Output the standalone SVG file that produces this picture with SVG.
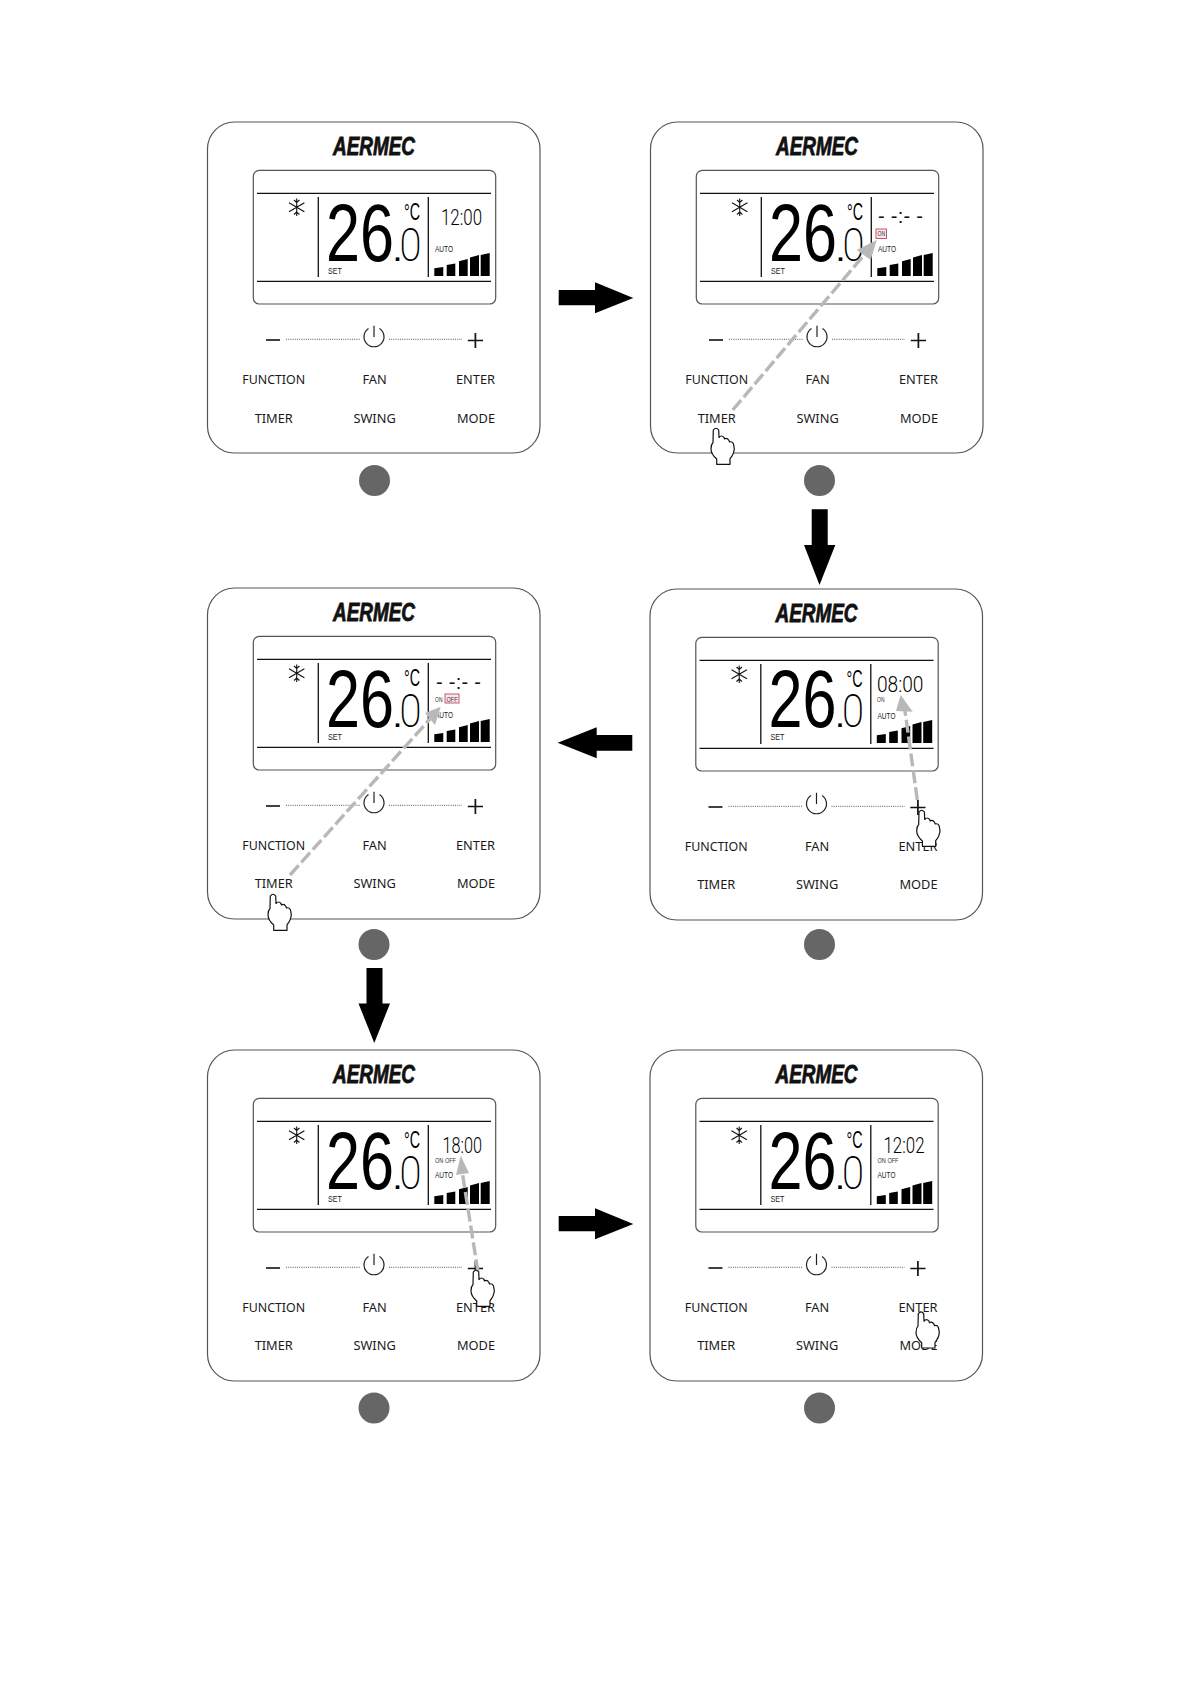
<svg xmlns="http://www.w3.org/2000/svg" width="1191" height="1684" viewBox="0 0 1191 1684">
<style>
text{font-family:"Noto Sans","Liberation Sans",sans-serif;fill:#1a1a1a}
.lb{font-size:12.8px;text-anchor:middle}
.fn{font-size:12.4px}
.logo{font-family:"Liberation Sans",Arial,sans-serif;font-weight:700;font-style:italic;font-size:25px;fill:#111;stroke:#111;stroke-width:.8}
.big{font-family:"Liberation Sans",Arial,sans-serif;font-size:81px;fill:#000}
.dec{font-family:Roboto,"Liberation Sans",sans-serif;font-size:47px;font-weight:200;fill:#000}
.dot{font-family:"Liberation Sans",Arial,sans-serif;font-size:24px;font-weight:700;fill:#000}
.deg{font-family:"Liberation Sans",Arial,sans-serif;font-size:23px;fill:#000}
.tm{font-family:Roboto,"Liberation Sans",sans-serif;font-size:22.5px;font-weight:300;fill:#000}
.dash{font-family:"Liberation Sans",Arial,sans-serif;font-size:20px;fill:#111}
.sm{font-family:"Liberation Sans",Arial,sans-serif;font-size:9px;fill:#222}
.xs{font-family:"Liberation Sans",Arial,sans-serif;font-size:7px;fill:#333}
.ln{stroke:#111;stroke-width:1.3;fill:none}
.fl{stroke:#111;stroke-width:1.1;fill:none}
.frame{fill:#fff;stroke:#555;stroke-width:1.2}
.dots{stroke:#555;stroke-width:1;stroke-dasharray:1 1.2;fill:none}
.num{fill:#666}
.blk{fill:#000}
.gd{stroke:#b8b8b8;stroke-width:3.4;stroke-dasharray:13 4;fill:none}
.gh{fill:#b8b8b8}
.hand{fill:#fff;stroke:#111;stroke-width:1.2;stroke-linejoin:round}
.box{fill:#fbe6ea;stroke:#c9566f;stroke-width:1}
</style>
<defs>
<g id="base">
<rect class="frame" x="207.5" y="122" width="332.5" height="331" rx="27"/>
<rect class="frame" x="253.3" y="170.3" width="242.4" height="133.7" rx="6"/>
<path class="ln" d="M257 193.3H491M257 281.3H491M318.3 197V277M428.3 197V277"/>
<path class="fl" d="M296.7 198.5V216M289 202.800L304.400 211.700M289 211.700L304.400 202.800M294 200L296.700 202.500L299.400 200M294 214.500L296.700 212L299.400 214.500"/>
<path d="M434.300 268.300L443.300 267V276H434.300ZM446.700 265L455.300 263.500V276H446.700ZM459 261.300L467.700 259V276H459ZM470 257.500L479 255V276H470ZM480.700 255L489.700 253V276H480.700Z" fill="#000"/>
<path d="M266 340H280" stroke="#111" stroke-width="1.6"/>
<path class="dots" d="M286 339.300H360M389 339.300H462"/>
<path d="M368.500 328.400A10 10 0 1 0 379.500 328.400M374 325.700V337" fill="none" stroke="#222" stroke-width="1.200"/>
<path d="M467.800 340.500H483M475.400 333V348" stroke="#111" stroke-width="1.700"/>
</g>
<path id="hp" d="M-2.700 2Q0 -1.500 2.700 2L3 9.500Q5.500 6.500 8 9.500L8.500 11Q11 9.500 13 12.500L13.500 14Q16.500 13 17.500 16L18.300 20.700Q18 26 14 30.700V36.300H0.700V31Q-5 26 -5 20.700Q-5 16.500 -3 14.500Z"/>
</defs>

<g id="panel-1">
<use href="#base"/>
<text class="logo" x="333" y="155" textLength="82" lengthAdjust="spacingAndGlyphs">AERMEC</text>
<text class="big" x="326" y="260.500" textLength="68" lengthAdjust="spacingAndGlyphs">26</text>
<text class="dot" x="394" y="260.500" textLength="7" lengthAdjust="spacingAndGlyphs">.</text>
<text class="dec" x="399.500" y="260.500" textLength="22" lengthAdjust="spacingAndGlyphs">0</text>
<text class="deg" x="404" y="220" textLength="16" lengthAdjust="spacingAndGlyphs">°C</text>
<text class="sm" x="328" y="273.500" textLength="14" lengthAdjust="spacingAndGlyphs">SET</text>
<text class="sm" x="435" y="252" textLength="18" lengthAdjust="spacingAndGlyphs">AUTO</text>
<text class="tm" x="441" y="225" textLength="41" lengthAdjust="spacingAndGlyphs">12:00</text>
<text class="lb fn" x="273.700" y="384">FUNCTION</text>
<text class="lb" x="374.600" y="384">FAN</text>
<text class="lb" x="475.500" y="384">ENTER</text>
<text class="lb" x="273.700" y="422.700">TIMER</text>
<text class="lb" x="374.600" y="422.700">SWING</text>
<text class="lb" x="476" y="422.700">MODE</text>
<circle class="num" cx="374.500" cy="480.500" r="15.500"/>
</g>

<g id="panel-2" transform="translate(443 0)">
<use href="#base"/>
<text class="logo" x="333" y="155" textLength="82" lengthAdjust="spacingAndGlyphs">AERMEC</text>
<text class="big" x="326" y="260.500" textLength="68" lengthAdjust="spacingAndGlyphs">26</text>
<text class="dot" x="394" y="260.500" textLength="7" lengthAdjust="spacingAndGlyphs">.</text>
<text class="dec" x="399.500" y="260.500" textLength="22" lengthAdjust="spacingAndGlyphs">0</text>
<text class="deg" x="404" y="220" textLength="16" lengthAdjust="spacingAndGlyphs">°C</text>
<text class="sm" x="328" y="273.500" textLength="14" lengthAdjust="spacingAndGlyphs">SET</text>
<text class="sm" x="435" y="252" textLength="18" lengthAdjust="spacingAndGlyphs">AUTO</text>
<text class="dash" x="435" y="222.700" textLength="45">- -:- -</text>
<rect class="box" x="433" y="229" width="10.500" height="9.500"/>
<text class="xs" x="434.500" y="236.300" textLength="7.500" lengthAdjust="spacingAndGlyphs">ON</text>
<text class="lb fn" x="273.700" y="384">FUNCTION</text>
<text class="lb" x="374.600" y="384">FAN</text>
<text class="lb" x="475.500" y="384">ENTER</text>
<text class="lb" x="273.700" y="422.700">TIMER</text>
<text class="lb" x="374.600" y="422.700">SWING</text>
<text class="lb" x="476" y="422.700">MODE</text>
<circle class="num" cx="376.500" cy="480.500" r="15.500"/>
</g>

<g id="panel-3" transform="translate(0 466)">
<use href="#base"/>
<text class="logo" x="333" y="155" textLength="82" lengthAdjust="spacingAndGlyphs">AERMEC</text>
<text class="big" x="326" y="260.500" textLength="68" lengthAdjust="spacingAndGlyphs">26</text>
<text class="dot" x="394" y="260.500" textLength="7" lengthAdjust="spacingAndGlyphs">.</text>
<text class="dec" x="399.500" y="260.500" textLength="22" lengthAdjust="spacingAndGlyphs">0</text>
<text class="deg" x="404" y="220" textLength="16" lengthAdjust="spacingAndGlyphs">°C</text>
<text class="sm" x="328" y="273.500" textLength="14" lengthAdjust="spacingAndGlyphs">SET</text>
<text class="sm" x="435" y="252" textLength="18" lengthAdjust="spacingAndGlyphs">AUTO</text>
<text class="dash" x="436" y="222.700" textLength="45">- -:- -</text>
<text class="xs" x="435" y="235.500" textLength="7.500" lengthAdjust="spacingAndGlyphs">ON</text>
<rect class="box" x="445" y="228" width="14" height="9"/>
<text class="xs" x="446.500" y="235.500" textLength="11" lengthAdjust="spacingAndGlyphs">OFF</text>
<text class="lb fn" x="273.700" y="384">FUNCTION</text>
<text class="lb" x="374.600" y="384">FAN</text>
<text class="lb" x="475.500" y="384">ENTER</text>
<text class="lb" x="273.700" y="422.200">TIMER</text>
<text class="lb" x="374.600" y="422.200">SWING</text>
<text class="lb" x="476" y="422.200">MODE</text>
<circle class="num" cx="374" cy="478.500" r="15.500"/>
</g>

<g id="panel-4" transform="translate(442.500 467)">
<use href="#base"/>
<text class="logo" x="333" y="154.500" textLength="82" lengthAdjust="spacingAndGlyphs">AERMEC</text>
<text class="big" x="326" y="260" textLength="68" lengthAdjust="spacingAndGlyphs">26</text>
<text class="dot" x="394" y="260" textLength="7" lengthAdjust="spacingAndGlyphs">.</text>
<text class="dec" x="399.500" y="260" textLength="22" lengthAdjust="spacingAndGlyphs">0</text>
<text class="deg" x="404" y="219.500" textLength="16" lengthAdjust="spacingAndGlyphs">°C</text>
<text class="sm" x="328" y="273" textLength="14" lengthAdjust="spacingAndGlyphs">SET</text>
<text class="sm" x="435" y="251.500" textLength="18" lengthAdjust="spacingAndGlyphs">AUTO</text>
<text class="tm" x="434.500" y="224.500" textLength="46.500" lengthAdjust="spacingAndGlyphs">08:00</text>
<text class="xs" x="434.500" y="234.500" textLength="7.500" lengthAdjust="spacingAndGlyphs">ON</text>
<text class="lb fn" x="273.700" y="383.500">FUNCTION</text>
<text class="lb" x="374.600" y="383.500">FAN</text>
<text class="lb" x="475.500" y="383.500">ENTER</text>
<text class="lb" x="273.700" y="422.200">TIMER</text>
<text class="lb" x="374.600" y="422.200">SWING</text>
<text class="lb" x="476" y="422.200">MODE</text>
<circle class="num" cx="377" cy="477.500" r="15.500"/>
</g>

<g id="panel-5" transform="translate(0 928)">
<use href="#base"/>
<text class="logo" x="333" y="155" textLength="82" lengthAdjust="spacingAndGlyphs">AERMEC</text>
<text class="big" x="326" y="260.500" textLength="68" lengthAdjust="spacingAndGlyphs">26</text>
<text class="dot" x="394" y="260.500" textLength="7" lengthAdjust="spacingAndGlyphs">.</text>
<text class="dec" x="399.500" y="260.500" textLength="22" lengthAdjust="spacingAndGlyphs">0</text>
<text class="deg" x="404" y="220" textLength="16" lengthAdjust="spacingAndGlyphs">°C</text>
<text class="sm" x="328" y="273.500" textLength="14" lengthAdjust="spacingAndGlyphs">SET</text>
<text class="sm" x="435" y="250" textLength="18" lengthAdjust="spacingAndGlyphs">AUTO</text>
<text class="tm" x="442.500" y="224.700" textLength="39.500" lengthAdjust="spacingAndGlyphs">18:00</text>
<text class="xs" x="435" y="235" textLength="21" lengthAdjust="spacingAndGlyphs">ON OFF</text>
<text class="lb fn" x="273.700" y="384">FUNCTION</text>
<text class="lb" x="374.600" y="384">FAN</text>
<text class="lb" x="475.500" y="384">ENTER</text>
<text class="lb" x="273.700" y="422.200">TIMER</text>
<text class="lb" x="374.600" y="422.200">SWING</text>
<text class="lb" x="476" y="422.200">MODE</text>
<circle class="num" cx="374" cy="480" r="15.500"/>
</g>

<g id="panel-6" transform="translate(442.500 928)">
<use href="#base"/>
<text class="logo" x="333" y="155" textLength="82" lengthAdjust="spacingAndGlyphs">AERMEC</text>
<text class="big" x="326" y="260.500" textLength="68" lengthAdjust="spacingAndGlyphs">26</text>
<text class="dot" x="394" y="260.500" textLength="7" lengthAdjust="spacingAndGlyphs">.</text>
<text class="dec" x="399.500" y="260.500" textLength="22" lengthAdjust="spacingAndGlyphs">0</text>
<text class="deg" x="404" y="220" textLength="16" lengthAdjust="spacingAndGlyphs">°C</text>
<text class="sm" x="328" y="273.500" textLength="14" lengthAdjust="spacingAndGlyphs">SET</text>
<text class="sm" x="435" y="250" textLength="18" lengthAdjust="spacingAndGlyphs">AUTO</text>
<text class="tm" x="441" y="224.700" textLength="41" lengthAdjust="spacingAndGlyphs">12:02</text>
<text class="xs" x="435" y="235" textLength="21" lengthAdjust="spacingAndGlyphs">ON OFF</text>
<text class="lb fn" x="273.700" y="384">FUNCTION</text>
<text class="lb" x="374.600" y="384">FAN</text>
<text class="lb" x="475.500" y="384">ENTER</text>
<text class="lb" x="273.700" y="422.200">TIMER</text>
<text class="lb" x="374.600" y="422.200">SWING</text>
<text class="lb" x="476" y="422.200">MODE</text>
<circle class="num" cx="377" cy="480" r="15.500"/>
</g>

<g id="connectors">
<polygon class="blk" points="558.700,290 595,290 595,282.300 633.300,298 595,313.300 595,305.300 558.700,305.300"/>
<polygon class="blk" points="811.700,509.300 827.700,509.300 827.700,545 835.300,545 819.500,585 804,545 811.700,545"/>
<polygon class="blk" points="632.300,735 596.700,735 596.700,727.300 557.700,742.700 596.700,758.300 596.700,750.700 632.300,750.700"/>
<polygon class="blk" points="366.500,968 382.500,968 382.500,1003.500 390,1003.500 374.300,1043 358.500,1003.500 366.500,1003.500"/>
<polygon class="blk" points="558.700,1216 595,1216 595,1208.300 633.300,1224 595,1239.300 595,1231.300 558.700,1231.300"/>
<path class="gd" d="M732.700 410L864 255"/>
<polygon class="gh" points="876.700,240 856.700,250 870.700,260"/>
<path class="gd" d="M290 875L430 719"/>
<polygon class="gh" points="440.700,706.700 425,713 435,725"/>
<path class="gd" d="M917.300 800L905 711"/>
<polygon class="gh" points="900.700,695 896,711 912.700,711.700"/>
<path class="gd" d="M478 1272L462.500 1174"/>
<polygon class="gh" points="460.700,1155.700 456,1175 469,1173"/>
</g>

<g id="hand-2"><use class="hand" href="#hp" transform="translate(716 428)"/></g>
<g id="hand-3"><use class="hand" href="#hp" transform="translate(273 894)"/></g>
<g id="hand-4"><use class="hand" href="#hp" transform="translate(921.700 810)"/></g>
<g id="hand-5"><use class="hand" href="#hp" transform="translate(476 1270)"/></g>
<g id="hand-6"><use class="hand" href="#hp" transform="translate(921 1311.700)"/></g>
</svg>
